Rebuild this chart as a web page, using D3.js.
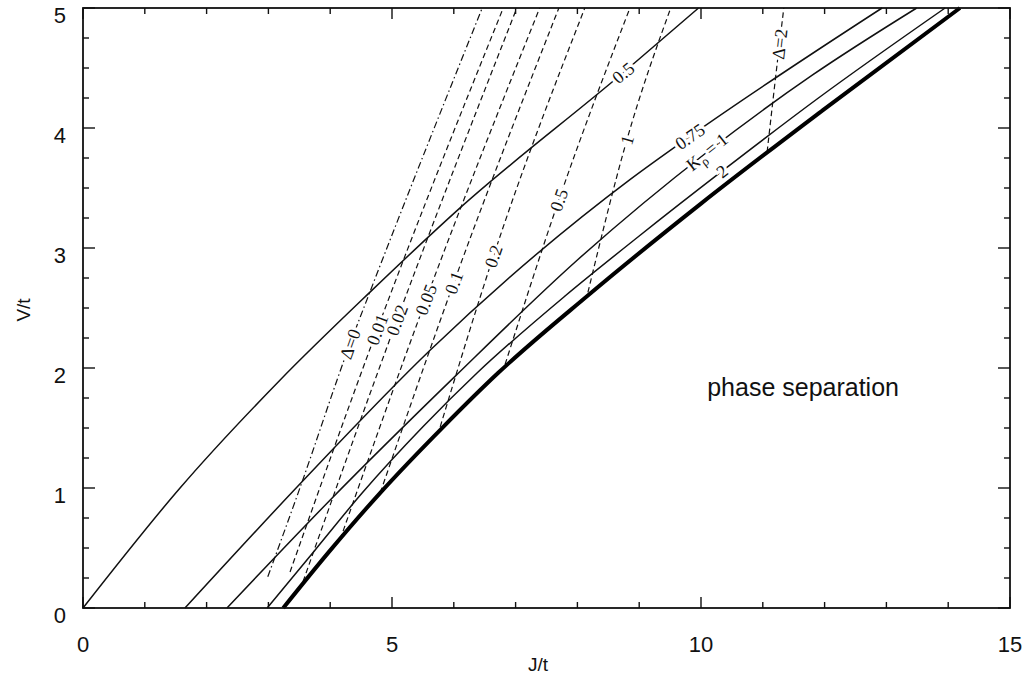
<!DOCTYPE html>
<html><head><meta charset="utf-8">
<script src="https://cdn.jsdelivr.net/npm/d3@7"></script>
<style>
html,body{margin:0;padding:0;background:#fff;}
svg{display:block;}
</style>
</head><body>
<svg id="c" width="1029" height="675"></svg>
<script>
// ---- data ----
const xDomain = [0, 15];
const yDomain = [0, 5];
const xTickLabels = [0, 5, 10, 15];
const yTickLabels = [0, 1, 2, 3, 4, 5];

// solid K_rho lines: [J/t, V/t]
const kLine05   = [[0,0],[1.57,1.0],[3.19,1.9],[4.64,2.63],[6.07,3.32],[8.74,4.46],[9.96,5]];
const kLine075  = [[1.65,0],[3.54,1.05],[5.62,2.15],[8.85,3.57],[9.82,3.93],[12.93,5]];
const kLine1    = [[2.33,0],[4.0,0.9],[6.02,1.93],[8.0,2.9],[10.1,3.8],[11.8,4.44],[13.49,5]];
const kLine2    = [[2.98,0],[3.75,0.48],[4.52,0.96],[5.5,1.51],[6.38,1.96],[7.8,2.6],[9.0,3.1],[10.34,3.64],[11.9,4.25],[13.95,5]];
const boundary  = [[3.24,0],[4.0,0.48],[4.81,0.96],[5.83,1.51],[6.72,1.96],[8.16,2.6],[10,3.37],[12,4.16],[14.19,5]];
const kLabels   = ["0.5", "0.75", "K|ρ| = 1", "2"];
const kLabelAt  = [5, 4, 4, 7]; // index of the point where the label sits

// dashed Delta lines
const dLine0    = [[2.99,0.26],[3.51,1.0],[4.32,2.2],[4.64,2.63],[6.46,5]];
const dLine001  = [[3.35,0.3],[4.76,2.32],[6.80,5]];
const dLine002  = [[3.56,0.22],[5.08,2.4],[7.02,5]];
const dLine005  = [[4.16,0.57],[5.55,2.57],[7.39,5]];
const dLine01   = [[4.81,0.96],[6.0,2.71],[7.70,5]];
const dLine02   = [[5.78,1.51],[6.64,2.93],[8.12,5]];
const dLine05   = [[6.83,2.03],[7.7,3.4],[8.85,5]];
const dLine1    = [[8.17,2.63],[8.8,3.9],[9.51,5]];
const dLine2    = [[11.07,3.8],[11.27,4.7],[11.34,5]];
const dLabels   = ["Δ=0","0.01","0.02","0.05","0.1","0.2","0.5","1","Δ=2"];
const dLabelAt  = [2, 1, 1, 1, 1, 1, 1, 1, 1];

const annotation = "phase separation";
const annotationAt = [10.1, 1.767];

// ---- drawing ----
const svg = d3.select("#c");
const L = 83, R = 1010, T = 8, B = 608;
const x = d3.scaleLinear().domain(xDomain).range([L, R]);
const y = d3.scaleLinear().domain(yDomain).range([B, T]);

const line = d3.line().x(d => x(d[0])).y(d => y(d[1])).curve(d3.curveMonotoneX);

const g = svg.append("g");

const kLines = [kLine05, kLine075, kLine1, kLine2];
const dLines = [dLine0, dLine001, dLine002, dLine005, dLine01, dLine02, dLine05, dLine1, dLine2];

// dashed Delta lines
dLines.forEach((pts, i) => {
  g.append("path").attr("d", line(pts)).attr("fill", "none")
   .attr("stroke", "#111").attr("stroke-width", 1.2)
   .attr("stroke-dasharray", i === 0 ? "7,3,1.5,3" : "5.5,3.5");
});
// solid K lines
kLines.forEach(pts => {
  g.append("path").attr("d", line(pts)).attr("fill", "none")
   .attr("stroke", "#111").attr("stroke-width", 1.5);
});
g.append("path").attr("d", line(boundary)).attr("fill", "none")
 .attr("stroke", "#000").attr("stroke-width", 4);

function angleAt(pts, k) {
  const a = pts[Math.max(0, k - 1)], b = pts[Math.min(pts.length - 1, k + 1)];
  return Math.atan2(y(b[1]) - y(a[1]), x(b[0]) - x(a[0])) * 180 / Math.PI;
}
function addLabel(pts, k, txt) {
  const p = pts[k];
  const ang = angleAt(pts, k);
  const t = g.append("text")
    .attr("transform", `translate(${x(p[0])},${y(p[1])}) rotate(${ang})`)
    .attr("text-anchor", "middle").attr("dy", "0.35em")
    .attr("font-family", "'Liberation Serif', 'DejaVu Serif', serif")
    .attr("font-size", 18).attr("fill", "#111")
    .attr("stroke", "#fff").attr("stroke-width", 6).attr("paint-order", "stroke");
  const parts = txt.split("|");
  if (parts.length === 3) {
    t.append("tspan").text(parts[0]);
    t.append("tspan").attr("font-size", 13).attr("dy", "0.3em").text(parts[1]);
    t.append("tspan").attr("dy", "-0.25em").text(parts[2]);
  } else t.text(txt);
}
kLines.forEach((pts, i) => addLabel(pts, kLabelAt[i], kLabels[i]));
dLines.forEach((pts, i) => addLabel(pts, dLabelAt[i], dLabels[i]));

// annotation
svg.append("text").attr("x", x(annotationAt[0])).attr("y", y(annotationAt[1]))
  .attr("font-family", "'Liberation Sans', Arial, sans-serif").attr("font-size", 25)
  .attr("fill", "#111").text(annotation);

// frame
svg.append("rect").attr("x", L).attr("y", T).attr("width", R - L).attr("height", B - T)
  .attr("fill", "none").attr("stroke", "#111").attr("stroke-width", 1.8);

// ticks
const xt = d3.range(0, 16, 1), yt = d3.range(0, 5.001, 0.25);
xt.forEach(v => {
  const len = v % 5 === 0 ? 11 : 6;
  svg.append("line").attr("x1", x(v)).attr("x2", x(v)).attr("y1", B).attr("y2", B - len).attr("stroke", "#111").attr("stroke-width", 1.4);
  svg.append("line").attr("x1", x(v)).attr("x2", x(v)).attr("y1", T).attr("y2", T + len).attr("stroke", "#111").attr("stroke-width", 1.4);
});
yt.forEach(v => {
  const len = Math.abs(v - Math.round(v)) < 1e-6 ? 12 : 6;
  svg.append("line").attr("x1", L).attr("x2", L + len).attr("y1", y(v)).attr("y2", y(v)).attr("stroke", "#111").attr("stroke-width", 1.4);
  svg.append("line").attr("x1", R).attr("x2", R - len).attr("y1", y(v)).attr("y2", y(v)).attr("stroke", "#111").attr("stroke-width", 1.4);
});

// tick labels
const tickFont = "'Liberation Sans', Arial, sans-serif";
svg.selectAll(".xl").data(xTickLabels).enter().append("text")
  .attr("x", d => x(d)).attr("y", 652).attr("text-anchor", "middle")
  .attr("font-family", tickFont).attr("font-size", 22).attr("fill", "#111").text(d => d);
svg.selectAll(".yl").data(yTickLabels).enter().append("text")
  .attr("x", 66).attr("y", d => y(d) + 15).attr("text-anchor", "end")
  .attr("font-family", tickFont).attr("font-size", 22).attr("fill", "#111").text(d => d);

// axis titles
svg.append("text").attr("x", 538).attr("y", 671).attr("text-anchor", "middle")
  .attr("font-family", tickFont).attr("font-size", 19).attr("fill", "#111").text("J/t");
svg.append("text").attr("transform", "translate(30,310) rotate(-90)").attr("text-anchor", "middle")
  .attr("font-family", tickFont).attr("font-size", 19).attr("fill", "#111").text("V/t");
</script>
</body></html>
